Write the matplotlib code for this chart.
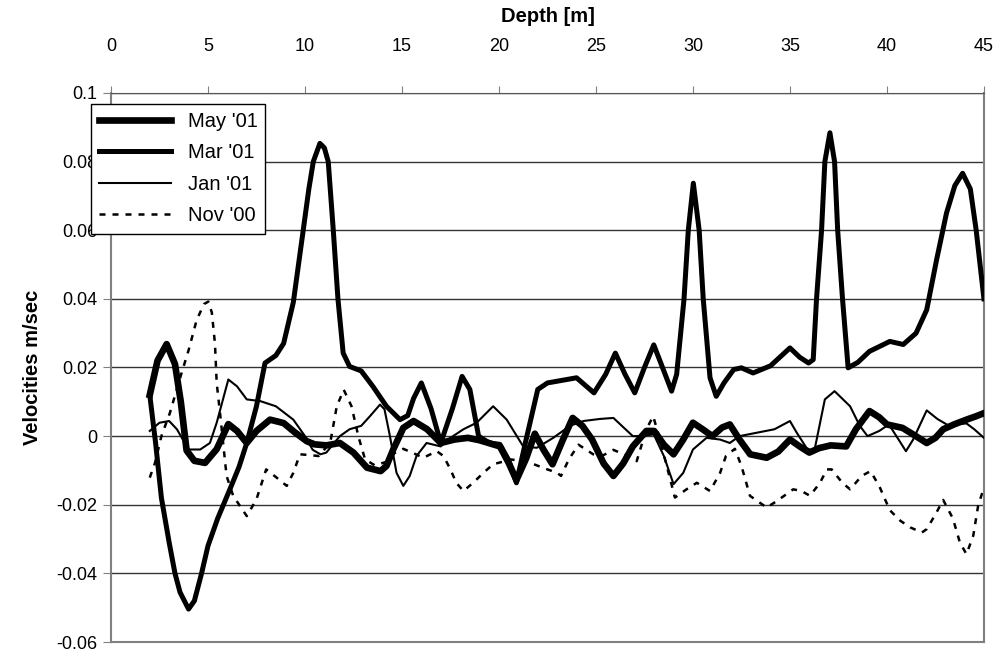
import matplotlib
matplotlib.use("Agg")
import matplotlib.pyplot as plt

plt.rcParams['font.family'] = ['Liberation Sans', 'DejaVu Sans']

# values (depth in m, velocity in m/sec)
may_depth = [2.0, 2.4, 2.87, 3.3, 3.6, 3.9, 4.3, 4.85, 5.45, 6.05, 6.5, 7.0, 7.5, 8.2, 8.9, 9.5, 10.1,
             10.5, 11.1, 11.8, 12.5, 13.2, 13.9, 14.2, 14.55, 15.07, 15.6, 16.3, 17.0, 17.7, 18.4, 19.0,
             20.05, 20.5, 20.9, 21.4, 21.85, 22.3, 22.76, 23.3, 23.8, 24.3, 24.8, 25.4, 25.9, 26.4, 26.9,
             27.6, 28.0, 28.5, 29.0, 29.5, 30.0, 30.5, 31.0, 31.5, 31.9, 32.4, 32.95, 33.8, 34.4, 35.0,
             35.5, 36.0, 36.5, 37.1, 37.9, 38.4, 39.1, 39.6, 40.0, 40.8, 41.35, 42.05, 42.5, 42.9, 43.5,
             44.1, 44.6, 45.0]
may_vel = [0.012, 0.022, 0.0268, 0.021, 0.010, -0.0042, -0.0072, -0.0078, -0.0038, 0.0035, 0.0015,
           -0.002, 0.0015, 0.0048, 0.0038, 0.001, -0.0015, -0.0024, -0.0027, -0.002, -0.0048, -0.0092,
           -0.0102, -0.0087, -0.0039, 0.0024, 0.0044, 0.002, -0.002, -0.001, -0.0005, -0.0012, -0.003,
           -0.0078, -0.0128, -0.0065, 0.0007, -0.004, -0.0082, -0.001, 0.0053, 0.003, -0.001, -0.008,
           -0.0116, -0.008, -0.003, 0.0015, 0.0015, -0.0025, -0.0053, -0.001, 0.0039, 0.002, 0.0,
           0.0025, 0.0034, -0.001, -0.0053, -0.0063, -0.0045, -0.001, -0.003, -0.0048, -0.0035, -0.0027,
           -0.003, 0.002, 0.0073, 0.0055, 0.0034, 0.0024, 0.0005, -0.002, -0.0005, 0.002, 0.0035,
           0.0048, 0.0058, 0.0067]

mar_depth = [2.0, 2.3, 2.6, 3.0, 3.3, 3.56, 4.0, 4.3, 4.67, 5.0, 5.5, 6.13, 6.6, 7.0, 7.5, 7.94, 8.5,
             8.9, 9.4, 9.91, 10.2, 10.43, 10.77, 11.0, 11.2, 11.46, 11.7, 11.97, 12.3, 12.9, 13.5, 14.2,
             14.9, 15.3, 15.6, 16.0, 16.5, 17.0, 17.6, 18.1, 18.5, 18.95, 19.5, 20.05, 20.5, 20.9, 21.4,
             22.0, 22.5, 23.0, 24.0, 24.9, 25.5, 26.0, 26.5, 27.0, 27.5, 27.98, 28.5, 28.9, 29.16, 29.54,
             29.76, 30.02, 30.32, 30.53, 30.88, 31.2, 31.6, 32.1, 32.5, 33.1, 34.0, 35.0, 35.5, 35.96,
             36.2, 36.37, 36.63, 36.8, 37.06, 37.3, 37.46, 37.71, 38.0, 38.5, 39.1, 40.15, 40.84, 41.5,
             42.05, 42.56, 43.07, 43.5, 43.9, 44.3, 44.6, 45.0]
mar_vel = [0.012, -0.002, -0.018, -0.031, -0.040, -0.0455, -0.0504, -0.048, -0.040, -0.032, -0.024,
           -0.0155, -0.009, -0.002, 0.0087, 0.0213, 0.0235, 0.027, 0.039, 0.060, 0.072, 0.080, 0.0853,
           0.084, 0.080, 0.060, 0.040, 0.0242, 0.0203, 0.019, 0.0145, 0.0087, 0.0048, 0.006, 0.011,
           0.0155, 0.008, -0.002, 0.008, 0.0174, 0.0136, 0.0, -0.002, -0.0024, -0.007, -0.0136, -0.001,
           0.0136, 0.0155, 0.016, 0.017, 0.0126, 0.018, 0.0242, 0.018, 0.0126, 0.020, 0.0266, 0.019,
           0.0131, 0.018, 0.040, 0.060, 0.0737, 0.060, 0.040, 0.017, 0.0116, 0.0155, 0.0194, 0.0199,
           0.0184, 0.0205, 0.0257, 0.023, 0.0213, 0.0223, 0.040, 0.060, 0.080, 0.0884, 0.080, 0.060,
           0.040, 0.0199, 0.0215, 0.0247, 0.0276, 0.0267, 0.030, 0.0368, 0.0514, 0.065, 0.073, 0.0766,
           0.072, 0.060, 0.040]

jan_depth = [2.0, 2.5, 3.0, 3.4, 4.0, 4.6, 5.1, 5.45, 6.05, 6.5, 7.0, 7.7, 8.5, 9.4, 10.0, 10.4, 10.8,
             11.1, 11.8, 12.3, 12.9, 13.35, 13.87, 14.1, 14.38, 14.72, 15.07, 15.4, 15.75, 16.27, 17.0,
             17.5, 18.17, 18.85, 19.7, 20.4, 21.25, 21.95, 22.8, 23.66, 24.35, 25.2, 25.9, 26.9, 27.3,
             27.98, 28.5, 29.0, 29.5, 30.0, 30.7, 31.4, 31.9, 32.4, 33.3, 34.2, 35.0, 35.35, 35.86,
             36.25, 36.8, 37.3, 38.1, 38.6, 39.0, 39.6, 40.1, 40.6, 40.98, 41.35, 42.05, 42.6, 43.2,
             43.7, 44.1, 44.5, 45.0]
jan_vel = [0.0015, 0.0039, 0.0044, 0.002, -0.0039, -0.0039, -0.002, 0.0039, 0.0165, 0.0145, 0.0107,
           0.0102, 0.0087, 0.0048, 0.0, -0.004, -0.0053, -0.0048, 0.0, 0.002, 0.003, 0.0058, 0.0092,
           0.0078, 0.0, -0.0107, -0.0145, -0.0116, -0.0058, -0.002, -0.003, -0.0005, 0.002, 0.0039,
           0.0087, 0.0048, -0.003, -0.0034, -0.0005, 0.003, 0.0044, 0.005, 0.0053, 0.0, 0.0, 0.0005,
           -0.0058, -0.014, -0.0107, -0.0039, -0.0005, -0.001, -0.002, 0.0, 0.001, 0.002, 0.0044, 0.001,
           -0.0035, -0.0045, 0.0107, 0.0131, 0.0087, 0.003, 0.0, 0.0015, 0.0034, -0.001, -0.0044, -0.001,
           0.0075, 0.005, 0.003, 0.0035, 0.0037, 0.002, -0.0005]

nov_depth = [2.0, 2.27, 2.6, 3.04, 3.64, 4.0, 4.42, 4.8, 5.02, 5.2, 5.36, 5.45, 5.62, 5.8, 5.96, 6.3,
             7.0, 7.5, 8.0, 8.54, 9.06, 9.4, 9.74, 10.2, 10.7, 11.3, 11.64, 12.0, 12.4, 12.75, 13.1,
             13.6, 14.2, 14.6, 15.07, 15.6, 16.1, 16.8, 17.14, 17.5, 17.8, 18.17, 18.67, 19.2, 19.7,
             20.1, 20.6, 21.2, 21.8, 22.4, 23.0, 23.2, 23.6, 24.1, 24.86, 25.3, 25.9, 26.5, 27.1, 27.6,
             27.95, 28.3, 28.65, 29.07, 29.67, 30.2, 30.88, 31.4, 31.7, 32.16, 32.5, 32.94, 33.8, 34.3,
             34.8, 35.17, 35.6, 36.03, 36.55, 36.9, 37.15, 37.7, 38.1, 38.7, 39.15, 39.6, 39.9, 40.15,
             40.7, 41.2, 41.8, 42.05, 42.5, 42.9, 43.4, 43.76, 44.1, 44.45, 44.7, 45.0]
nov_vel = [-0.0121, -0.0078, 0.0, 0.0068, 0.0184, 0.025, 0.0339, 0.0385, 0.0392, 0.036, 0.027, 0.0155,
           0.0068, -0.003, -0.0116, -0.0174, -0.0233, -0.0184, -0.0097, -0.0121, -0.0145, -0.0107,
           -0.0053, -0.0055, -0.0058, -0.002, 0.0087, 0.0135, 0.0087, 0.0, -0.0068, -0.0085, -0.0075,
           -0.005, -0.0037, -0.005, -0.0063, -0.0044, -0.0058, -0.0097, -0.0136, -0.016, -0.0136,
           -0.0107, -0.0082, -0.0076, -0.0068, -0.0072, -0.0082, -0.0095, -0.0107, -0.0116, -0.0068,
           -0.0025, -0.0053, -0.0058, -0.004, -0.0055, -0.0073, 0.002, 0.0058, -0.001, -0.0087, -0.0179,
           -0.0155, -0.0136, -0.016, -0.0107, -0.0058, -0.0037, -0.0087, -0.0174, -0.0208, -0.019,
           -0.017, -0.0155, -0.016, -0.0174, -0.0136, -0.0097, -0.0097, -0.0136, -0.0155, -0.0116,
           -0.0102, -0.0145, -0.0184, -0.0216, -0.0247, -0.0266, -0.0281, -0.0271, -0.0228, -0.0186,
           -0.024, -0.031, -0.0344, -0.029, -0.0203, -0.015]

fig = plt.figure(figsize=(9.97, 6.51), dpi=100)
ax = fig.add_axes([0.1113, 0.0138, 0.8756, 0.8434])

ax.plot(may_depth, may_vel, color='black', lw=4.8, solid_joinstyle='round', label="May '01", zorder=5)
ax.plot(mar_depth, mar_vel, color='black', lw=3.6, solid_joinstyle='round', label="Mar '01", zorder=4)
ax.plot(jan_depth, jan_vel, color='black', lw=1.5, solid_joinstyle='round', label="Jan '01", zorder=3)
ax.plot(nov_depth, nov_vel, color='black', lw=1.8, dashes=(2.4, 2.8), label="Nov '00", zorder=2)

ax.set_xlim(0, 45)
ax.set_ylim(-0.06, 0.1)
ax.set_xticks(range(0, 46, 5))
ax.set_yticks([-0.06, -0.04, -0.02, 0, 0.02, 0.04, 0.06, 0.08, 0.1])
ax.set_yticklabels(['-0.06', '-0.04', '-0.02', '0', '0.02', '0.04', '0.06', '0.08', '0.1'])
ax.xaxis.tick_top()
ax.xaxis.set_label_position('top')
ax.tick_params(axis='x', direction='out', length=5, labelsize=13, pad=22, color='#808080')
ax.tick_params(axis='y', direction='out', length=6, labelsize=13, pad=4, color='#808080')
ax.set_xlabel('Depth [m]', fontsize=14.5, fontweight='bold', labelpad=12)
ax.set_ylabel('Velocities m/sec', fontsize=14.5, fontweight='bold', labelpad=10)

ax.yaxis.grid(True, color='#333333', lw=1.0)
ax.set_axisbelow(True)
for s in ['left', 'right', 'bottom']:
    ax.spines[s].set_color('#808080')
    ax.spines[s].set_linewidth(1.5)
ax.spines['top'].set_color('#555555')

leg = ax.legend(loc='upper left', bbox_to_anchor=(-0.023, 0.98), borderaxespad=0,
                fontsize=14.5, handlelength=3.6, fancybox=False, edgecolor='black',
                framealpha=1, labelspacing=0.62)
leg.get_frame().set_linewidth(1.0)
leg.set_zorder(10)

plt.savefig('out.png', dpi=100)
